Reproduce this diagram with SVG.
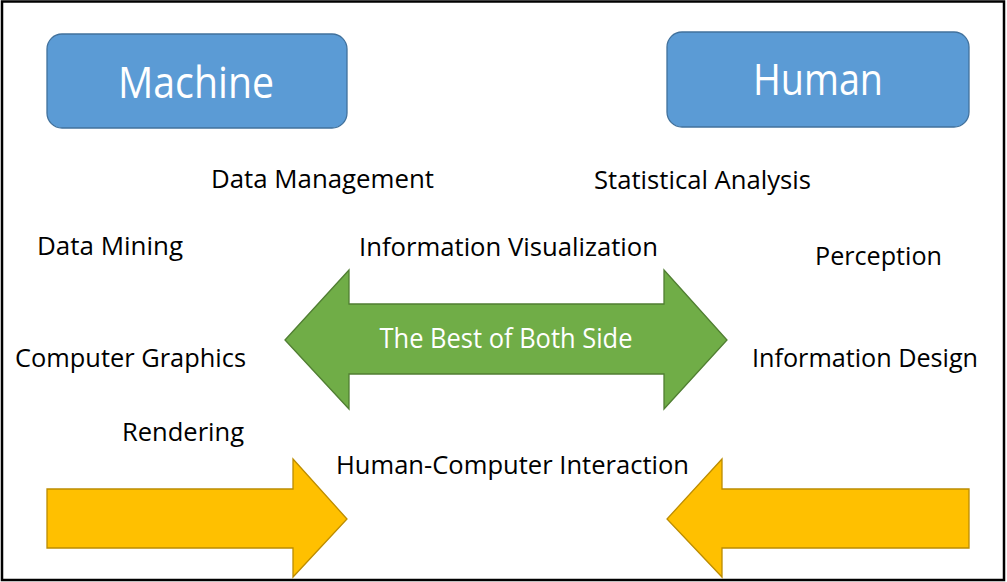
<svg xmlns="http://www.w3.org/2000/svg" width="1007" height="582" viewBox="0 0 1007 582">
<style>
.lbl{font-family:"Open Sans","Noto Sans",sans-serif;font-size:26px;fill:#000}
.wt{font-family:"Open Sans","Noto Sans",sans-serif;fill:#fff}
.box{fill:#5B9BD5;stroke:#41719C;stroke-width:1.3}
.green{fill:#70AD47;stroke:#507E32;stroke-width:1.3}
.yellow{fill:#FFC000;stroke:#BC8C00;stroke-width:1.3}
</style>
<rect x="0" y="0" width="1007" height="582" fill="#fff"/>
<rect x="2" y="1.5" width="1002" height="578.5" fill="none" stroke="#000" stroke-width="2.5"/>
<g id="machine">
<rect class="box" x="47" y="34" width="300" height="94" rx="15"/>
<text class="wt" x="196" y="98" font-size="43" text-anchor="middle" textLength="156" lengthAdjust="spacingAndGlyphs">Machine</text>
</g>
<g id="human">
<rect class="box" x="667" y="32" width="302" height="95" rx="15"/>
<text class="wt" x="818" y="95" font-size="43" text-anchor="middle" textLength="130" lengthAdjust="spacingAndGlyphs">Human</text>
</g>
<g id="connectors">
<polygon id="best" class="green" points="285,340 349,270 349,304 664,304 664,270 727,340 664,409 664,374 349,374 349,409"/>
<polygon id="arrow-left" class="yellow" points="47,489 293,489 293,459 347,519 293,577 293,548 47,548"/>
<polygon id="arrow-right" class="yellow" points="969,489 722,489 722,459 667,519 722,577 722,548 969,548"/>
</g>
<g id="best-label">
<text class="wt" x="506" y="348" font-size="28" text-anchor="middle" textLength="253" lengthAdjust="spacingAndGlyphs">The Best of Both Side</text>
</g>
<g id="labels">
<text class="lbl" x="211" y="188" textLength="223" lengthAdjust="spacingAndGlyphs">Data Management</text>
<text class="lbl" x="594" y="189" textLength="217" lengthAdjust="spacingAndGlyphs">Statistical Analysis</text>
<text class="lbl" x="37" y="255" textLength="146" lengthAdjust="spacingAndGlyphs">Data Mining</text>
<text class="lbl" x="359" y="256" textLength="299" lengthAdjust="spacingAndGlyphs">Information Visualization</text>
<text class="lbl" x="815" y="265" textLength="127" lengthAdjust="spacingAndGlyphs">Perception</text>
<text class="lbl" x="15" y="367" textLength="231" lengthAdjust="spacingAndGlyphs">Computer Graphics</text>
<text class="lbl" x="752" y="367" textLength="226" lengthAdjust="spacingAndGlyphs">Information Design</text>
<text class="lbl" x="122" y="441" textLength="122" lengthAdjust="spacingAndGlyphs">Rendering</text>
<text class="lbl" x="336" y="474" textLength="353" lengthAdjust="spacingAndGlyphs">Human-Computer Interaction</text>
</g>
</svg>
